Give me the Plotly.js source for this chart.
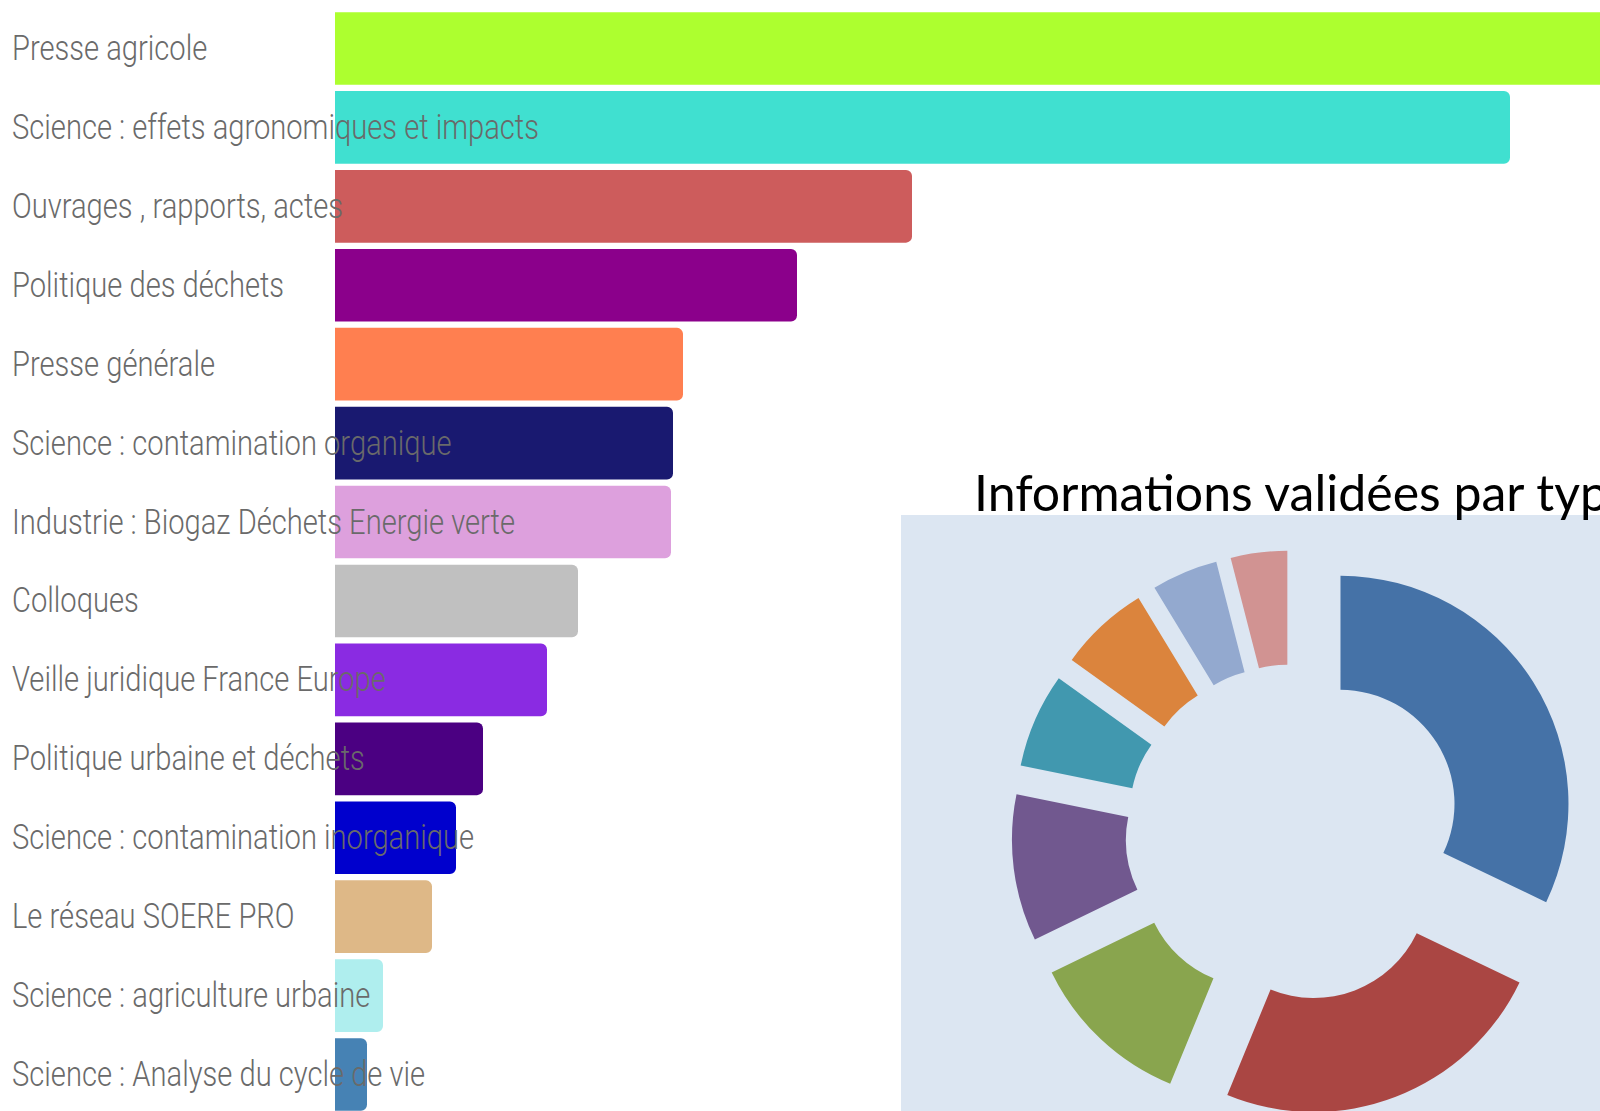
<!DOCTYPE html>
<html>
<head>
<meta charset="utf-8">
<script src="https://cdn.plot.ly/plotly-3.0.1.min.js"></script>
<style>
html,body{margin:0;padding:0;overflow:hidden;background:#ffffff}
#wrap{width:1600px;height:1111px;overflow:hidden}
#chart{width:1600px;height:1240px}
</style>
</head>
<body>
<div id="wrap"><div id="chart"></div></div>
<script>
// ---- Bar chart data ----
const categories = [
  "Presse agricole",
  "Science : effets agronomiques et impacts",
  "Ouvrages , rapports, actes",
  "Politique des déchets",
  "Presse générale",
  "Science : contamination organique",
  "Industrie : Biogaz Déchets Energie verte",
  "Colloques",
  "Veille juridique France Europe",
  "Politique urbaine et déchets",
  "Science : contamination inorganique",
  "Le réseau SOERE PRO",
  "Science : agriculture urbaine",
  "Science : Analyse du cycle de vie"
];
const values = [290, 235, 115.4, 92.4, 69.6, 67.6, 67.2, 48.6, 42.4, 29.6, 24.2, 19.4, 9.6, 6.4];
const barColors = [
  "#ADFF2F", "#40E0D0", "#CD5C5C", "#8B008B", "#FF7F50", "#191970", "#DDA0DD",
  "#C0C0C0", "#8A2BE2", "#4B0082", "#0000CD", "#DEB887", "#AFEEEE", "#4682B4"
];

// ---- Donut data ----
const pieTitle = "Informations validées par type";
const pieLabels = ["Type 1", "Type 2", "Type 3", "Type 4", "Type 5", "Type 6", "Type 7", "Type 8"];
const pieValues = [32.1, 24.1, 11.6, 10.4, 6.7, 6.4, 4.7, 4.0];
const pieColors = ["#4572A7", "#AA4643", "#89A54E", "#71588F", "#4198AF", "#DB843D", "#93A9CF", "#D19392"];

const W = 1600, H = 1240;

const barTrace = {
  type: "bar",
  orientation: "h",
  y: categories,
  x: values,
  marker: { color: barColors, cornerradius: 6, line: { width: 0 } },
  xaxis: "x", yaxis: "y",
  hoverinfo: "none",
  showlegend: false
};

const pieTrace = {
  type: "pie",
  labels: pieLabels,
  values: pieValues,
  sort: false,
  direction: "clockwise",
  rotation: 0,
  hole: 0.5,
  pull: 0.24,
  textinfo: "none",
  hoverinfo: "none",
  marker: { colors: pieColors, line: { width: 0 } },
  domain: { x: [1011.5 / W, 1576.9 / W], y: [(H - 1115.7) / H, (H - 550.3) / H] },
  showlegend: false
};

const labelAnnotations = categories.map(c => ({
  text: c,
  xref: "paper", x: 10 / W, xanchor: "left", align: "left",
  yref: "y", y: c, yanchor: "middle", yshift: 0,
  showarrow: false,
  font: { family: "Roboto, Liberation Sans, sans-serif", size: 35, weight: 300, color: "#6a6a6a" }
}));

const titleAnnotation = {
  text: pieTitle,
  xref: "paper", x: 972 / W, xanchor: "left",
  yref: "paper", y: (H - 492) / H, yanchor: "middle",
  showarrow: false,
  font: { family: "Lato, Carlito, Calibri, sans-serif", size: 50, color: "#000000" }
};

const layout = {
  width: W, height: H,
  margin: { l: 0, r: 0, t: 0, b: 0, pad: 0 },
  paper_bgcolor: "#ffffff",
  plot_bgcolor: "rgba(0,0,0,0)",
  showlegend: false,
  bargap: 0.08,
  xaxis: { domain: [335 / W, 1], range: [0, 253], visible: false, fixedrange: true },
  yaxis: {
    domain: [(H - 1114) / H, (H - 9) / H],
    type: "category",
    categoryorder: "array", categoryarray: categories,
    range: [13.5, -0.5],
    visible: false, fixedrange: true
  },
  shapes: [{
    type: "rect", xref: "paper", yref: "paper", layer: "below",
    x0: 901 / W, x1: 1, y0: 0, y1: (H - 515) / H,
    fillcolor: "#DCE6F2", line: { width: 0 }
  }],
  annotations: labelAnnotations.concat([titleAnnotation])
};

// Width the reference's condensed label font gives to the longest label (px)
const refLabelWidth = 527;

Plotly.newPlot("chart", [barTrace, pieTrace], layout, { staticPlot: true, displayModeBar: false })
  .then(function () {
    const texts = Array.from(document.querySelectorAll("#chart .annotation-text"));
    let factor = 1;
    texts.forEach(function (t) {
      if (t.textContent === categories[1]) factor = refLabelWidth / t.getComputedTextLength();
    });
    texts.forEach(function (t) {
      if (categories.indexOf(t.textContent) !== -1) {
        const L = t.getComputedTextLength();
        t.setAttribute("textLength", (L * factor).toFixed(1));
        t.setAttribute("lengthAdjust", "spacingAndGlyphs");
      }
    });
  });
</script>
</body>
</html>
